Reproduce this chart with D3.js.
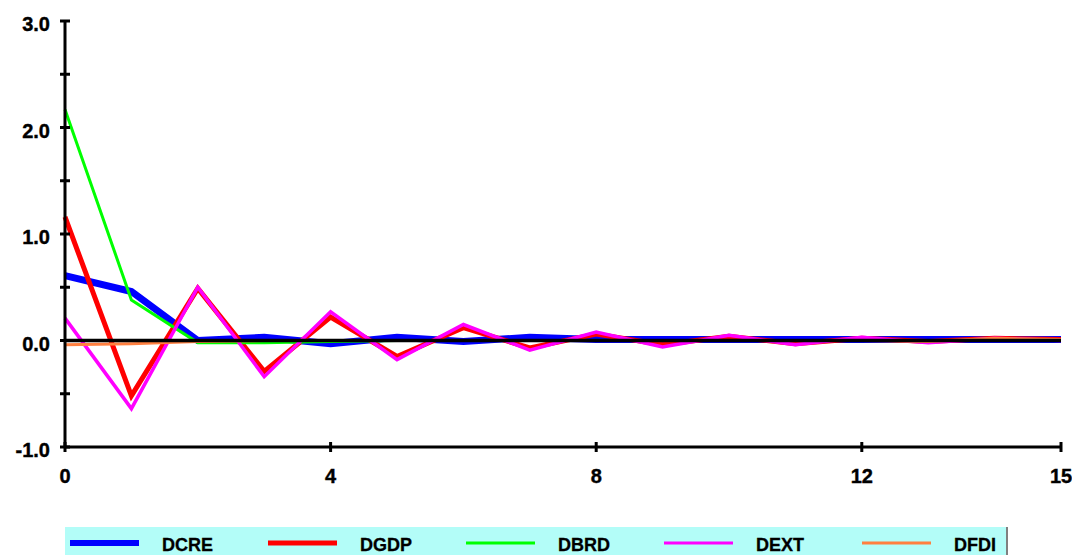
<!DOCTYPE html>
<html>
<head>
<meta charset="utf-8">
<script src="https://cdn.jsdelivr.net/npm/d3@7.8.5/dist/d3.min.js"></script>
<style>
  body { margin: 0; background: #fff; }
  svg { display: block; font-family: "Liberation Sans", Arial, sans-serif; }
</style>
</head>
<body>
<div id="chart"></div>
<script>
// impulse responses, periods 0..15
const periods = d3.range(0, 16)
const seriesNames = ["DCRE", "DGDP", "DBRD", "DEXT", "DFDI"]
const DCRE = [0.61, 0.46, 0.0, 0.03, -0.03, 0.03, -0.01, 0.03, 0.01, 0.01, 0.01, 0.01, 0.01, 0.01, 0.01, 0.01]
const DGDP = [1.16, -0.52, 0.49, -0.29, 0.22, -0.15, 0.12, -0.07, 0.06, -0.04, 0.04, -0.03, 0.02, -0.01, 0.02, 0.01]
const DBRD = [2.17, 0.38, -0.02, -0.02, -0.01, 0.0, 0.0, 0.0, 0.0, 0.0, 0.0, 0.0, 0.0, 0.0, 0.0, 0.0]
const DEXT = [0.21, -0.64, 0.50, -0.34, 0.27, -0.18, 0.15, -0.09, 0.08, -0.06, 0.05, -0.04, 0.03, -0.02, 0.02, 0.0]
const DFDI = [-0.04, -0.03, -0.01, 0.0, 0.0, 0.0, 0.0, 0.0, 0.0, 0.0, 0.0, 0.0, 0.0, -0.01, 0.02, 0.01]
const xTicks = [0, 4, 8, 12, 15]
const yTicks = [-1, 0, 1, 2, 3]
const yMinorTicks = [-0.5, 0.5, 1.5, 2.5]

const values = [DCRE, DGDP, DBRD, DEXT, DFDI]
const colors = ["#0000ff", "#ff0000", "#00ff00", "#ff00ff", "#ff8040"]
const widths = [7, 5, 3, 3.5, 3]
const legendWidths = [6, 5, 3, 3, 3]

const width = 1072, height = 555
const x = d3.scaleLinear().domain([0, 15]).range([65, 1061])
const y = d3.scaleLinear().domain([-1, 3]).range([447, 21])

const svg = d3.select("#chart").append("svg")
  .attr("width", width).attr("height", height)

// series
const line = d3.line().x((d, i) => x(periods[i])).y(d => y(d))
values.forEach((vals, k) => {
  svg.append("path")
    .attr("d", line(vals))
    .attr("fill", "none")
    .attr("stroke", colors[k])
    .attr("stroke-width", widths[k])
    .attr("stroke-linejoin", "miter")
})

// zero line
svg.append("line")
  .attr("x1", x(0)).attr("x2", x(15))
  .attr("y1", y(0)).attr("y2", y(0))
  .attr("stroke", "#000").attr("stroke-width", 3.5)

// y axis
const yAxis = svg.append("g")
yAxis.append("line")
  .attr("x1", x(0)).attr("x2", x(0))
  .attr("y1", y(3)).attr("y2", y(-1))
  .attr("stroke", "#000").attr("stroke-width", 3)
yAxis.selectAll("line.tick")
  .data(yTicks.concat(yMinorTicks))
  .join("line")
    .attr("class", "tick")
    .attr("x1", x(0) - 5).attr("x2", x(0) + 5)
    .attr("y1", d => y(d)).attr("y2", d => y(d))
    .attr("stroke", "#000").attr("stroke-width", 3)
yAxis.selectAll("text")
  .data(yTicks)
  .join("text")
    .attr("x", 50)
    .attr("y", d => y(d) + 10)
    .attr("text-anchor", "end")
    .attr("font-size", 20)
    .attr("font-weight", "bold")
    .attr("stroke", "#000").attr("stroke-width", 0.4)
    .text(d => d.toFixed(1))

// x axis
const xAxis = svg.append("g")
xAxis.append("line")
  .attr("x1", x(0)).attr("x2", x(15))
  .attr("y1", y(-1)).attr("y2", y(-1))
  .attr("stroke", "#000").attr("stroke-width", 3)
xAxis.selectAll("line.tick")
  .data(xTicks)
  .join("line")
    .attr("class", "tick")
    .attr("x1", d => x(d)).attr("x2", d => x(d))
    .attr("y1", y(-1) - 5).attr("y2", y(-1) + 5)
    .attr("stroke", "#000").attr("stroke-width", 3)
xAxis.selectAll("text")
  .data(xTicks)
  .join("text")
    .attr("x", d => x(d))
    .attr("y", 483)
    .attr("text-anchor", "middle")
    .attr("font-size", 20)
    .attr("font-weight", "bold")
    .attr("stroke", "#000").attr("stroke-width", 0.4)
    .text(d => d)

// legend
const legend = svg.append("g")
legend.append("rect")
  .attr("x", 65).attr("y", 527)
  .attr("width", 941).attr("height", 30)
  .attr("fill", "#b3fdf8")
legend.append("line")
  .attr("x1", 1007).attr("x2", 1007)
  .attr("y1", 527).attr("y2", 555)
  .attr("stroke", "#808080").attr("stroke-width", 2)
const item = legend.selectAll("g.item")
  .data(seriesNames)
  .join("g")
    .attr("class", "item")
    .attr("transform", (d, i) => `translate(${70 + i * 198},0)`)
item.append("line")
  .attr("x1", 0).attr("x2", 69)
  .attr("y1", 543).attr("y2", 543)
  .attr("stroke", (d, i) => colors[i])
  .attr("stroke-width", (d, i) => legendWidths[i])
item.append("text")
  .attr("x", 92).attr("y", 551)
  .attr("font-size", 18)
  .attr("font-weight", "bold")
  .attr("stroke", "#000").attr("stroke-width", 0.3)
  .text(d => d)
</script>
</body>
</html>
